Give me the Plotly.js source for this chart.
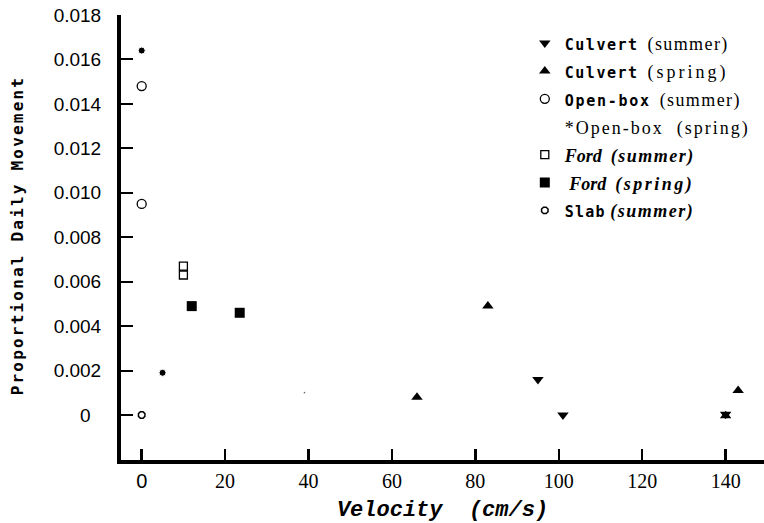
<!DOCTYPE html>
<html>
<head>
<meta charset="utf-8">
<script src="https://cdn.plot.ly/plotly-3.0.1.min.js"></script>
<style>html,body{margin:0;padding:0;background:#fff;}#chart{width:764px;height:523px;}</style>
</head>
<body>
<div id="chart"></div>
<script>
// ---- data ----
var culvertSummerX = [95, 101, 140];
var culvertSummerY = [0.0016, 0.0000, 0.00003];
var culvertSpringX = [66, 83, 140, 143];
var culvertSpringY = [0.0008, 0.0049, -0.00003, 0.0011];
var openBoxSummerX = [0, 0];
var openBoxSummerY = [0.0148, 0.0095];
var openBoxSpringX = [0, 5, 39];
var openBoxSpringY = [0.0164, 0.0019, 0.0010];
var fordSummerX = [10, 10];
var fordSummerY = [0.0067, 0.0063];
var fordSpringX = [12, 23.5];
var fordSpringY = [0.0049, 0.0046];
var slabSummerX = [0];
var slabSummerY = [0.0000];

var xTickVals = [0, 20, 40, 60, 80, 100, 120, 140];
var xTickText = ['<span style="font-family:Liberation Sans">0</span>', '20', '40', '60', '80', '100', '120', '140'];
var yTickVals = [0, 0.002, 0.004, 0.006, 0.008, 0.010, 0.012, 0.014, 0.016, 0.018];
var yTickText = ['0\u00a0\u00a0', '0.002', '0.004', '0.006', '0.008', '0.010', '0.012', '0.014', '0.016', '0.018'];

var MONO = 'font-family:DejaVu Sans Mono;font-size:15px;font-weight:bold;';
var legendNames = {
  culvertSummer: '<span style="' + MONO + 'letter-spacing:1.5px">Culvert</span>&nbsp;&nbsp;<span style="letter-spacing:1.4px">(summer)</span>',
  culvertSpring: '<span style="' + MONO + 'letter-spacing:1.5px">Culvert</span>&nbsp;&nbsp;<span style="letter-spacing:3px">(spring)</span>',
  openBoxSummer: '<span style="' + MONO + 'letter-spacing:1.7px">Open-box</span>&nbsp;&nbsp;<span style="letter-spacing:1.4px">(summer)</span>',
  openBoxSpring: '<span style="letter-spacing:2px">*Open-box&nbsp;&nbsp;(spring)</span>',
  fordSummer: '<b><i>Ford&nbsp;&nbsp;<span style="letter-spacing:1.5px">(summer)</span></i></b>',
  fordSpring: '<b><i>&nbsp;Ford&nbsp;&nbsp;<span style="letter-spacing:2.5px">(spring)</span></i></b>',
  slabSummer: '<span style="' + MONO + 'letter-spacing:1.2px">Slab</span>&nbsp;<b><i><span style="letter-spacing:1.5px">(summer)</span></i></b>'
};

var blk = '#000';
var traces = [
  {x: culvertSummerX, y: culvertSummerY, name: legendNames.culvertSummer, legendgroup: 'a',
   mode: 'markers', type: 'scatter', marker: {symbol: 'triangle-down', size: 10, color: blk, opacity: 1}},
  {x: culvertSpringX, y: culvertSpringY, name: legendNames.culvertSpring, legendgroup: 'b',
   mode: 'markers', type: 'scatter', marker: {symbol: 'triangle-up', size: 10, color: blk, opacity: 1}},
  {x: openBoxSummerX, y: openBoxSummerY, name: legendNames.openBoxSummer, legendgroup: 'c',
   mode: 'markers', type: 'scatter', marker: {symbol: 'circle-open', size: 9, color: blk, line: {width: 1.3}, opacity: 1}},
  {x: [null], y: [null], name: legendNames.openBoxSpring, legendgroup: 'd',
   mode: 'markers', type: 'scatter', marker: {symbol: 'circle', size: 1, color: 'rgba(0,0,0,0)'}},
  {x: openBoxSpringX, y: openBoxSpringY, name: 'Open-box (spring)', legendgroup: 'd', showlegend: false,
   mode: 'markers', type: 'scatter', marker: {symbol: 'circle', size: [7, 7, 2], color: blk, opacity: 1}},
  {x: fordSummerX, y: fordSummerY, name: legendNames.fordSummer, legendgroup: 'e',
   mode: 'markers', type: 'scatter', marker: {symbol: 'square-open', size: 8, color: blk, line: {width: 1.3}, opacity: 1}},
  {x: fordSpringX, y: fordSpringY, name: legendNames.fordSpring, legendgroup: 'f',
   mode: 'markers', type: 'scatter', marker: {symbol: 'square', size: 10, color: blk, opacity: 1}},
  {x: slabSummerX, y: slabSummerY, name: legendNames.slabSummer, legendgroup: 'g',
   mode: 'markers', type: 'scatter', marker: {symbol: 'octagon-open', size: 7, color: blk, line: {width: 1.5}, opacity: 1}}
];

var layout = {
  width: 764, height: 523,
  margin: {l: 121, r: 0, t: 15, b: 63},
  paper_bgcolor: '#fff', plot_bgcolor: '#fff',
  showlegend: true,
  legend: {x: 0.628, y: 0.978, xanchor: 'left', yanchor: 'top', bgcolor: 'rgba(0,0,0,0)',
           tracegroupgap: 1.5, traceorder: 'grouped',
           font: {family: 'Liberation Serif', size: 18, color: '#000'}},
  xaxis: {
    range: [-4.96, 149.2], autorange: false,
    tickmode: 'array', tickvals: xTickVals, ticktext: xTickText,
    showgrid: false, zeroline: false, showline: true, linewidth: 4, linecolor: blk,
    ticks: 'inside', ticklen: 11, tickwidth: 2.5, tickcolor: blk,
    tickfont: {family: 'Liberation Serif', size: 20, color: blk},
    title: {text: '<b><i>Velocity  (cm/s)</i></b>', font: {family: 'Liberation Mono', size: 22, color: blk}}
  },
  yaxis: {
    range: [-0.002025, 0.018], autorange: false,
    tickmode: 'array', tickvals: yTickVals, ticktext: yTickText,
    showgrid: false, zeroline: false, showline: true, linewidth: 4, linecolor: blk,
    ticks: 'inside', ticklen: 12, tickwidth: 2, tickcolor: blk,
    ticklabelstandoff: 12,
    tickfont: {family: 'Liberation Sans', size: 19, color: blk}
  },
  annotations: [{
    xref: 'paper', yref: 'paper', x: -0.1617, y: 0.505, xanchor: 'center', yanchor: 'middle',
    textangle: -90, showarrow: false,
    text: '<span style="letter-spacing:2.2px;font-weight:bold">Proportional Daily Movement</span>',
    font: {family: 'DejaVu Sans Mono', size: 16, color: blk}
  }]
};

Plotly.newPlot('chart', traces, layout, {displayModeBar: false, staticPlot: true});
</script>
</body>
</html>
